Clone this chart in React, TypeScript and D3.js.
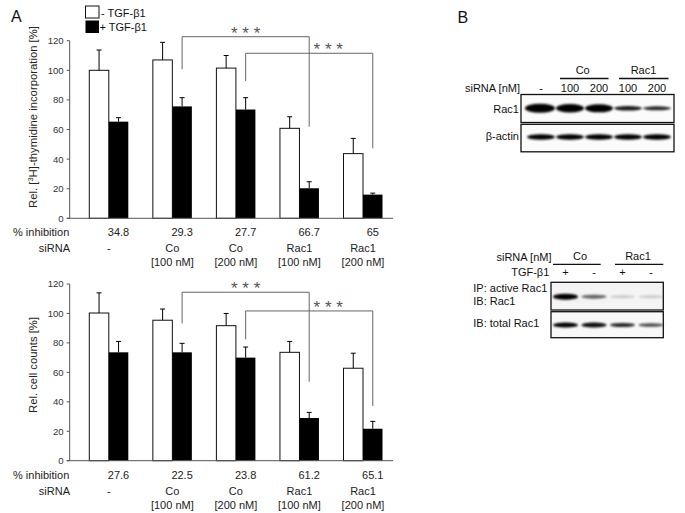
import React from 'react';
import * as d3 from 'd3';

// ---------- data ----------
const siRNA = ['-', 'Co', 'Co', 'Rac1', 'Rac1'];
const doses = ['', '[100 nM]', '[200 nM]', '[100 nM]', '[200 nM]'];
const yTicks = [0, 20, 40, 60, 80, 100, 120];

const thymMinus = [100, 107, 101.5, 60.8, 43.7];
const thymMinusSd = [13.7, 11.9, 8.5, 7.8, 10.3];
const thymPlus = [65.3, 75.6, 73.5, 20.3, 16];
const thymPlusSd = [2.7, 5.9, 8, 4.4, 1];
const thymInhib = ['34.8', '29.3', '27.7', '66.7', '65'];
// brackets: [fromGroup, toGroup, topValue, leftEndValue, rightEndValue, starFraction]
const thymBrackets = [
  [1, 3, 122.7, 100.7, 61.9, 0.5],
  [2, 4, 111.5, 92.8, 47.3, 0.65],
];

const cellMinus = [100.3, 95.4, 91.7, 73.6, 62.8];
const cellMinusSd = [13.7, 7.6, 8.3, 7.4, 10.2];
const cellPlus = [73.6, 73.6, 70, 29, 21.7];
const cellPlusSd = [7.4, 6.1, 7.2, 3.8, 5];
const cellInhib = ['27.6', '22.5', '23.8', '61.2', '65.1'];
const cellBrackets = [
  [1, 3, 114.4, 93.3, 53.6, 0.5],
  [2, 4, 101.7, 82.4, 37.1, 0.65],
];

// Western blot 1
const blot1Lanes = ['-', '100', '200', '100', '200'];
const blot1Rac1Thick = [9, 8.5, 8, 4.5, 4];
const blot1Rac1Int = [1, 1, 1, 0.9, 0.85];
const blot1ActinThick = [5.5, 5.5, 5.5, 5.5, 5.5];
const blot1ActinInt = [1, 1, 1, 1, 1];

// Western blot 2
const blot2Tgf = ['+', '-', '+', '-'];
const blot2ActiveThick = [6, 4, 3, 3];
const blot2ActiveInt = [1, 0.6, 0.18, 0.18];
const blot2TotalThick = [5, 5, 4, 3.5];
const blot2TotalInt = [1, 0.95, 0.85, 0.7];

const FONT = 'Arial, "Liberation Sans", Helvetica, sans-serif';
const AX = '#555';

type ChartProps = {
  y0: number; y120: number;
  minus: number[]; minusSd: number[]; plus: number[]; plusSd: number[];
  inhib: string[]; brackets: number[][];
  label: React.ReactNode; labelY: number;
};

function BarChart({ y0, y120, minus, minusSd, plus, plusSd, inhib, brackets, label, labelY }: ChartProps) {
  const y = d3.scaleLinear().domain([0, 120]).range([y0, y120]);
  const xg = d3.scaleLinear().domain([0, 4]).range([89.3, 343.5]);
  const bw = 19.5;
  const axisX = 69.7;
  const axisEnd = 393;
  const blackC = (i: number) => xg(i) + bw * 1.5;
  const pairC = (i: number) => xg(i) + bw;
  const errBar = (cx: number, v: number, sd: number, key: string) => (
    <g key={key} stroke="#000" strokeWidth={1}>
      <line x1={cx} x2={cx} y1={y(v)} y2={y(v + sd)} />
      <line x1={cx - 2.5} x2={cx + 2.5} y1={y(v + sd)} y2={y(v + sd)} />
    </g>
  );
  return (
    <g fontFamily={FONT}>
      {/* y label */}
      <text transform={`translate(36.5,${labelY}) rotate(-90)`} textAnchor="middle" fontSize={11.3} fill="#222">{label}</text>
      {/* bars */}
      {minus.map((v, i) => (
        <rect key={'m' + i} x={xg(i)} y={y(v)} width={bw} height={y(0) - y(v)} fill="#fff" stroke="#111" strokeWidth={1} />
      ))}
      {plus.map((v, i) => (
        <rect key={'p' + i} x={xg(i) + bw} y={y(v)} width={bw} height={y(0) - y(v)} fill="#000" />
      ))}
      {minus.map((v, i) => errBar(xg(i) + bw / 2, v, minusSd[i], 'em' + i))}
      {plus.map((v, i) => errBar(blackC(i), v, plusSd[i], 'ep' + i))}
      {/* axes */}
      <line x1={axisX} x2={axisX} y1={y(0)} y2={y(120)} stroke={AX} strokeWidth={1} />
      <line x1={axisX - 3} x2={axisEnd} y1={y(0)} y2={y(0)} stroke={AX} strokeWidth={1} />
      {yTicks.map((t) => (
        <g key={t}>
          <line x1={axisX - 3} x2={axisX} y1={y(t)} y2={y(t)} stroke={AX} />
          <text x={axisX - 6} y={y(t) + 3.4} textAnchor="end" fontSize={9.6} fill="#333">{t}</text>
        </g>
      ))}
      {/* brackets */}
      {brackets.map((b, k) => {
        const x1 = blackC(b[0]);
        const x2 = blackC(b[1]);
        const yt = y(b[2]);
        return (
          <g key={'b' + k}>
            <path d={`M${x1},${y(b[3])}V${yt}H${x2}V${y(b[4])}`} fill="none" stroke="#666" strokeWidth={1} />
            <text x={x1 + (x2 - x1) * b[5]} y={yt + 1.8} textAnchor="middle" fontSize={17} fill="#555">* * *</text>
          </g>
        );
      })}
      {/* bottom table */}
      <text x={13} y={y0 + 18} fontSize={11} fill="#222">% inhibition</text>
      {inhib.map((s, i) => (
        <text key={'i' + i} x={blackC(i)} y={y0 + 18} textAnchor="middle" fontSize={11} fill="#222">{s}</text>
      ))}
      <text x={70} y={y0 + 34} textAnchor="end" fontSize={11} fill="#222">siRNA</text>
      {siRNA.map((s, i) => (
        <g key={'s' + i}>
          <text x={pairC(i)} y={y0 + 34} textAnchor="middle" fontSize={11} fill="#222">{s}</text>
          <text x={pairC(i)} y={y0 + 48} textAnchor="middle" fontSize={11} fill="#222">{doses[i]}</text>
        </g>
      ))}
    </g>
  );
}

function Band({ cx, cy, w, h, a }: { cx: number; cy: number; w: number; h: number; a: number }) {
  return <ellipse cx={cx} cy={cy} rx={w / 2} ry={h / 2} fill="#000" opacity={a} filter="url(#blur)" />;
}

export default function App() {
  const lane1 = d3.scaleLinear().domain([0, 4]).range([541, 657]);
  const lane2 = d3.scaleLinear().domain([0, 3]).range([565.5, 651]);
  return (
    <svg width={685} height={513} style={{ position: 'absolute', left: 0, top: 0, background: '#fff' }} fontFamily={FONT}>
      <defs>
        <filter id="blur" x="-30%" y="-100%" width="160%" height="300%">
          <feGaussianBlur stdDeviation="1.2" />
        </filter>
      </defs>
      <rect width={685} height={513} fill="#fff" />
      <text x={11} y={21.5} fontSize={16} fill="#111">A</text>
      <text x={457.5} y={22.7} fontSize={16} fill="#111">B</text>

      {/* legend */}
      <rect x={85.5} y={6} width={13.5} height={12} fill="#fff" stroke="#111" strokeWidth={1} />
      <rect x={85.5} y={20.5} width={13.5} height={12.5} fill="#000" />
      <text x={101} y={16.5} fontSize={11} fill="#111">- TGF-β1</text>
      <text x={99.5} y={30.8} fontSize={11} fill="#111">+ TGF-β1</text>

      <BarChart y0={218.3} y120={40.7} minus={thymMinus} minusSd={thymMinusSd} plus={thymPlus} plusSd={thymPlusSd}
        inhib={thymInhib} brackets={thymBrackets} labelY={117}
        label={<>Rel. [<tspan fontSize={7.5} dy={-4}>3</tspan><tspan dy={4}>H]-thymidine incorporation [%]</tspan></>} />
      <BarChart y0={460.7} y120={284} minus={cellMinus} minusSd={cellMinusSd} plus={cellPlus} plusSd={cellPlusSd}
        inhib={cellInhib} brackets={cellBrackets} labelY={365} label={'Rel. cell counts [%]'} />

      {/* Blot 1 */}
      <g fontSize={11} fill="#111">
        <text x={582.7} y={73.5} textAnchor="middle">Co</text>
        <line x1={560} x2={608.5} y1={78.5} y2={78.5} stroke="#111" strokeWidth={1.3} />
        <text x={643.5} y={73.5} textAnchor="middle">Rac1</text>
        <line x1={619} x2={668.5} y1={78.5} y2={78.5} stroke="#111" strokeWidth={1.3} />
        <text x={520} y={92} textAnchor="end">siRNA [nM]</text>
        {blot1Lanes.map((s, i) => (
          <text key={'l1' + i} x={lane1(i)} y={92} textAnchor="middle">{s}</text>
        ))}
        <rect x={521} y={94.5} width={153} height={28} fill="#fbfbfb" stroke="#111" strokeWidth={1.3} />
        <rect x={521} y={124.3} width={153} height={27.5} fill="#fbfbfb" stroke="#111" strokeWidth={1.3} />
        {blot1Rac1Thick.map((h, i) => (
          <Band key={'r' + i} cx={lane1(i) - (i === 0 ? 1 : 0)} cy={108.3} w={i === 0 ? 30 : 28} h={h} a={blot1Rac1Int[i]} />
        ))}
        {blot1ActinThick.map((h, i) => (
          <Band key={'a' + i} cx={lane1(i)} cy={137} w={28} h={h} a={blot1ActinInt[i]} />
        ))}
        <text x={519} y={113} textAnchor="end">Rac1</text>
        <text x={519} y={139.5} textAnchor="end">β-actin</text>
      </g>

      {/* Blot 2 */}
      <g fontSize={11} fill="#111">
        <text x={551.5} y={260.7} textAnchor="end">siRNA [nM]</text>
        <text x={580} y={260} textAnchor="middle">Co</text>
        <line x1={553} x2={600.7} y1={264.3} y2={264.3} stroke="#111" strokeWidth={1.3} />
        <text x={638} y={260} textAnchor="middle">Rac1</text>
        <line x1={615} x2={663.3} y1={264.3} y2={264.3} stroke="#111" strokeWidth={1.3} />
        <text x={549.3} y={275.7} textAnchor="end">TGF-β1</text>
        {blot2Tgf.map((s, i) => (
          <text key={'t' + i} x={lane2(i)} y={275.7} textAnchor="middle">{s}</text>
        ))}
        <rect x={551} y={282.3} width={112.3} height={27.7} fill="#f4f4f4" stroke="#111" strokeWidth={1.3} />
        <rect x={551} y={311.7} width={112.3} height={26} fill="#f8f8f8" stroke="#111" strokeWidth={1.3} />
        {blot2ActiveThick.map((h, i) => (
          <Band key={'ac' + i} cx={lane2(i)} cy={296.7} w={25} h={h} a={blot2ActiveInt[i]} />
        ))}
        {blot2TotalThick.map((h, i) => (
          <Band key={'to' + i} cx={lane2(i)} cy={325} w={25} h={h} a={blot2TotalInt[i]} />
        ))}
        <text x={473.3} y={292.3}>IP: active Rac1</text>
        <text x={473.3} y={305}>IB: Rac1</text>
        <text x={473.3} y={327.3}>IB: total Rac1</text>
      </g>
    </svg>
  );
}
